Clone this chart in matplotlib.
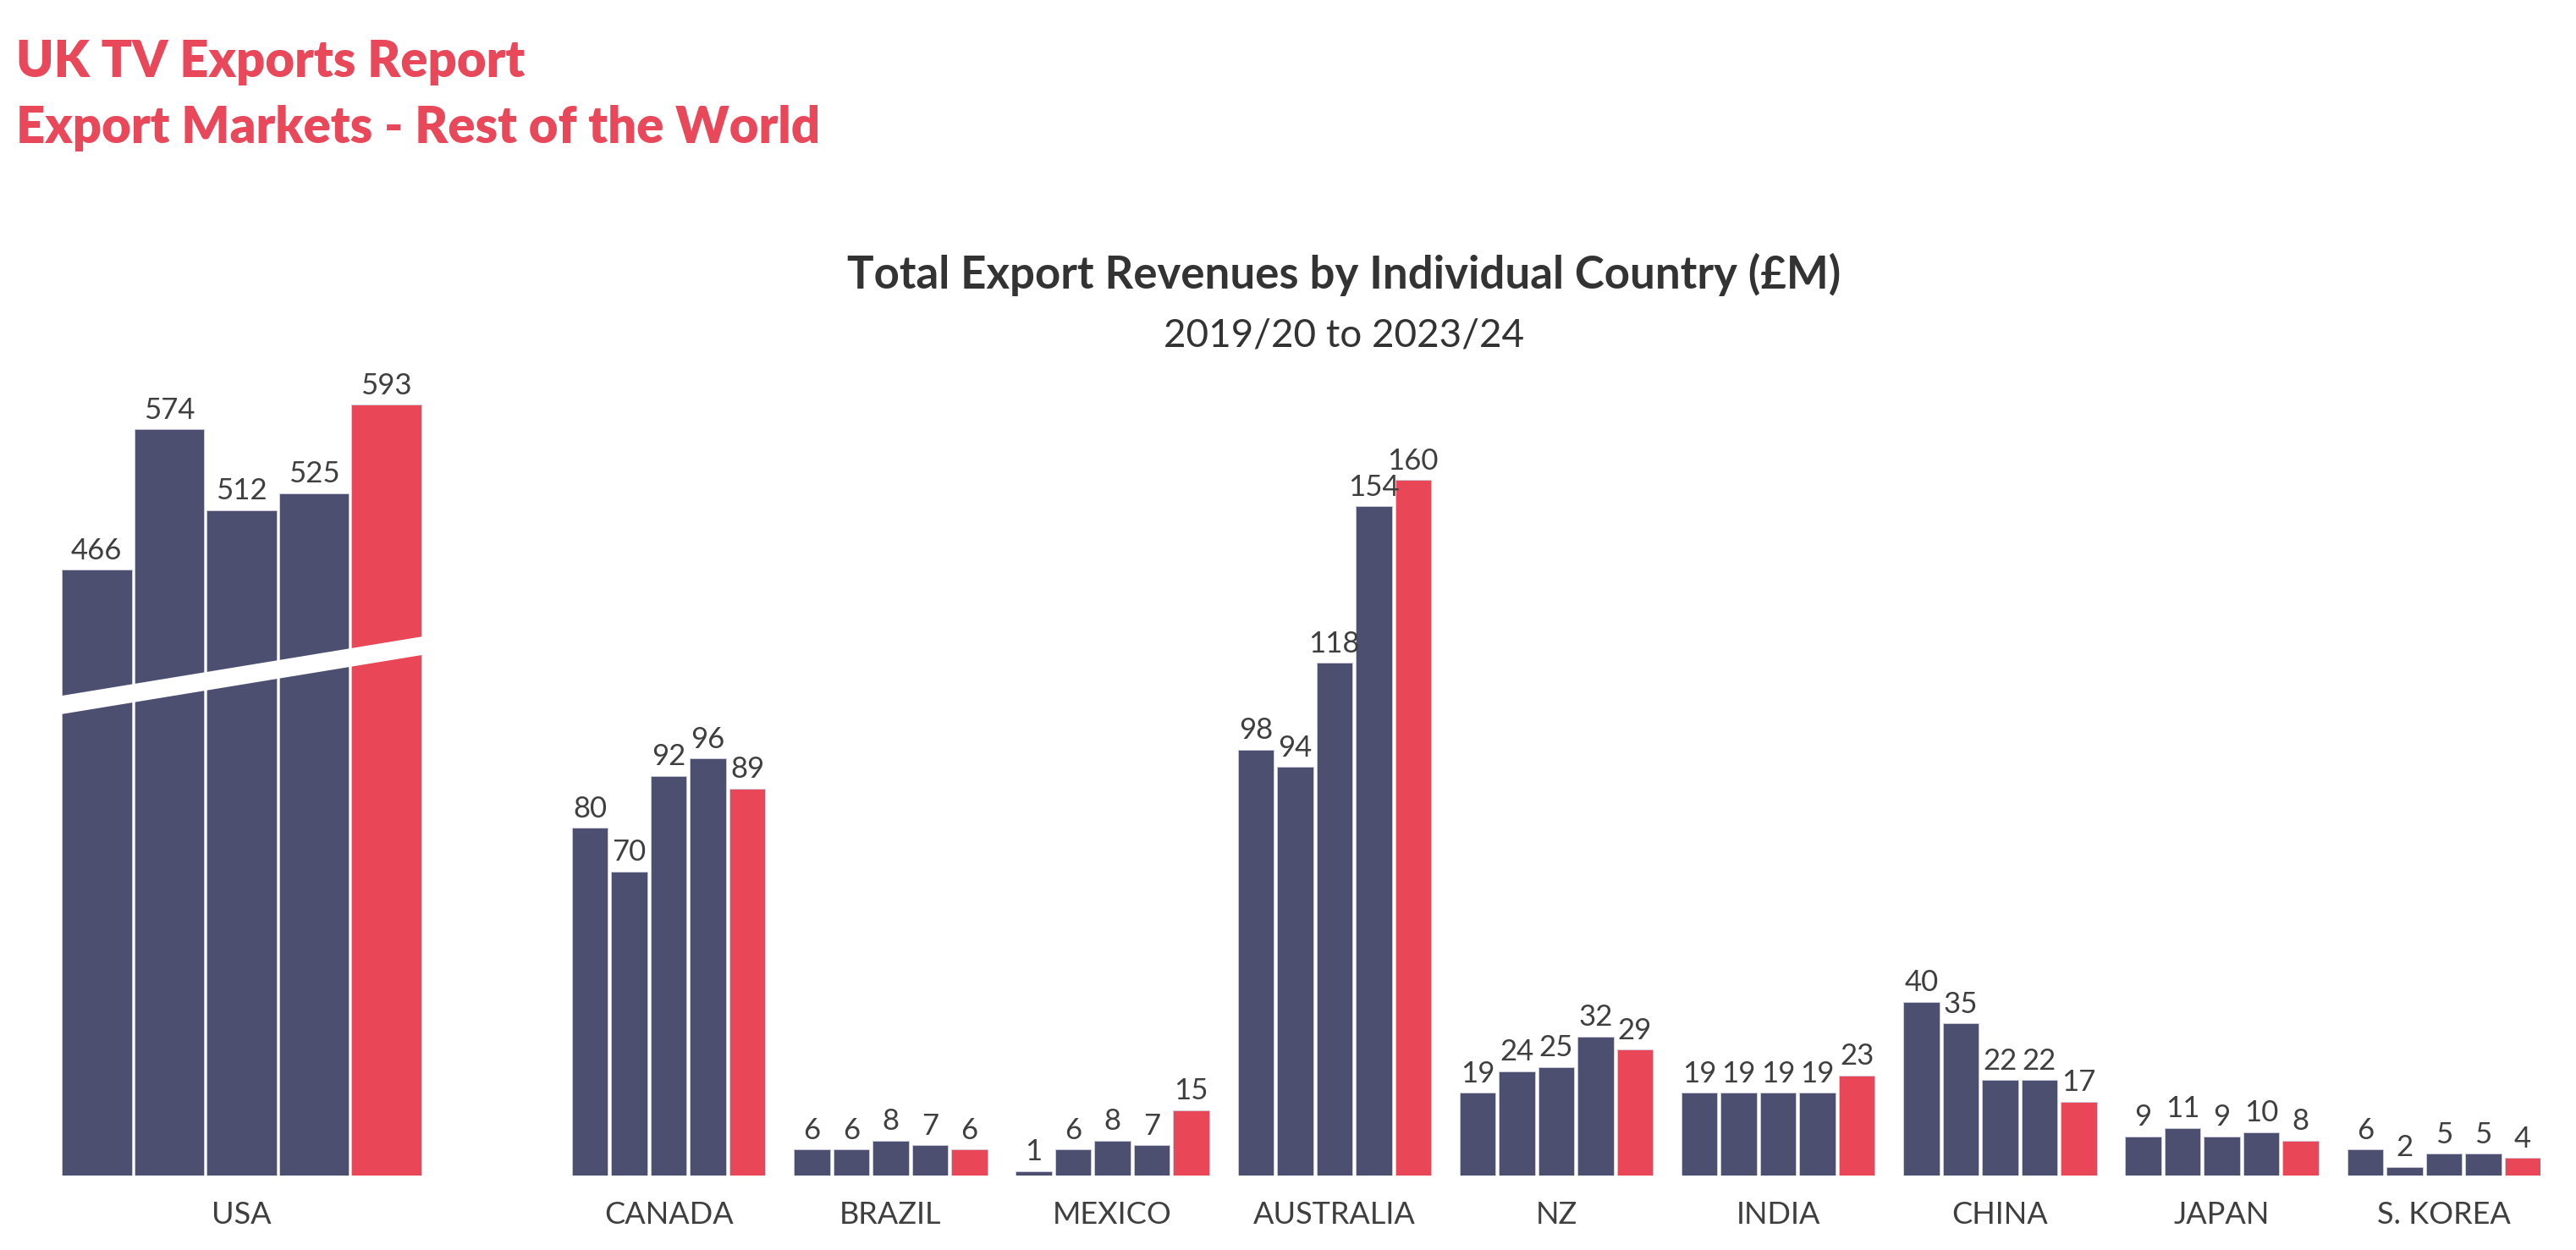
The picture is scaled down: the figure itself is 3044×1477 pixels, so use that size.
import matplotlib
matplotlib.use("Agg")
import matplotlib.pyplot as plt
from matplotlib.patches import Polygon
import matplotlib.transforms as mtransforms

# values in £M, one list per country, years 2019/20 .. 2023/24
years = ["2019/20", "2020/21", "2021/22", "2022/23", "2023/24"]
usa = [466, 574, 512, 525, 593]
canada = [80, 70, 92, 96, 89]
brazil = [6, 6, 8, 7, 6]
mexico = [1, 6, 8, 7, 15]
australia = [98, 94, 118, 154, 160]
nz = [19, 24, 25, 32, 29]
india = [19, 19, 19, 19, 23]
china = [40, 35, 22, 22, 17]
japan = [9, 11, 9, 10, 8]
skorea = [6, 2, 5, 5, 4]

countries = ["CANADA", "BRAZIL", "MEXICO", "AUSTRALIA", "NZ", "INDIA", "CHINA", "JAPAN", "S. KOREA"]
country_values = [canada, brazil, mexico, australia, nz, india, china, japan, skorea]

NAVY = "#4d4f71"
RED = "#e94657"
TEXT = "#3f3f3f"
FONT = ["Lato", "DejaVu Sans"]

# figure size in pixels
W = 3044
H = 1477
BASE = 1389  # baseline of the bars, px from top
TOP = 400    # top of plot area, px from top
GROUP_STEP = 5.64


def bar_colors(n):
    # last year is highlighted in red
    return [NAVY] * (n - 1) + [RED]


def label_bars(ax, xs, vals):
    for x, v in zip(xs, vals):
        ax.annotate(str(v), (x, v), xytext=(0, 9), textcoords="offset points",
                    ha="center", va="baseline", fontsize=25, color=TEXT,
                    family=FONT, fontweight="normal")


def cat_label(fig, ax, x, text):
    trans = mtransforms.blended_transform_factory(ax.transData, fig.transFigure)
    ax.text(x, 1 - 1446 / H, text, transform=trans, ha="center", va="baseline",
            fontsize=26, color=TEXT, family=FONT, fontweight="normal")


def clean(ax):
    ax.set_axis_off()


def main():
    fig = plt.figure(figsize=(W / 100, H / 100), dpi=100)
    fig.patch.set_facecolor("white")

    # usa gets its own axes with a compressed scale (broken bars)
    usa_px = 1.536  # px per £M
    ax_usa = fig.add_axes([71.5 / W, (H - BASE) / H, 428 / W, (BASE - TOP) / H])
    xs = list(range(len(usa)))
    ax_usa.bar(xs, usa, width=0.965, color=bar_colors(len(usa)),
               edgecolor="#cfcfe0", linewidth=0.6)
    ax_usa.set_xlim(-0.5, len(usa) - 0.5)
    ax_usa.set_ylim(0, (BASE - TOP) / usa_px)
    label_bars(ax_usa, xs, usa)
    # white slanted band for the axis break
    band = Polygon([(0, 0.551), (1, 0.622), (1, 0.644), (0, 0.573)], closed=True,
                   transform=ax_usa.transAxes, facecolor="white", edgecolor="none", zorder=5)
    ax_usa.add_patch(band)
    cat_label(fig, ax_usa, 2, "USA")
    clean(ax_usa)

    # rest of the world on a common scale
    px = 5.135
    ax = fig.add_axes([676 / W, (H - BASE) / H, 2326 / W, (BASE - TOP) / H])
    for g, (name, vals) in enumerate(zip(countries, country_values)):
        xs = [g * GROUP_STEP + j for j in range(len(vals))]
        ax.bar(xs, vals, width=0.914, color=bar_colors(len(vals)),
               edgecolor="#cfcfe0", linewidth=0.6)
        label_bars(ax, xs, vals)
        cat_label(fig, ax, xs[2], name)
    ax.set_xlim(-0.457, (len(countries) - 1) * GROUP_STEP + 4.457)
    ax.set_ylim(0, (BASE - TOP) / px)
    clean(ax)

    # headings
    fig.text(19 / W, 1 - 91 / H, "UK TV Exports Report", ha="left", va="baseline",
             fontsize=43, fontweight="heavy", color="#e8485a", family=FONT)
    fig.text(19 / W, 1 - 169 / H, "Export Markets - Rest of the World", ha="left", va="baseline",
             fontsize=43, fontweight="heavy", color="#e8485a", family=FONT)
    fig.text(1588 / W, 1 - 341 / H, "Total Export Revenues by Individual Country (£M)",
             ha="center", va="baseline", fontsize=38, fontweight="bold", color="#333333", family=FONT)
    fig.text(1588 / W, 1 - 410 / H, "2019/20 to 2023/24", ha="center", va="baseline",
             fontsize=33, fontweight="normal", color="#333333", family=FONT)

    fig.savefig("out.png", dpi=100, facecolor="white")


if __name__ == '__main__':
    main()
